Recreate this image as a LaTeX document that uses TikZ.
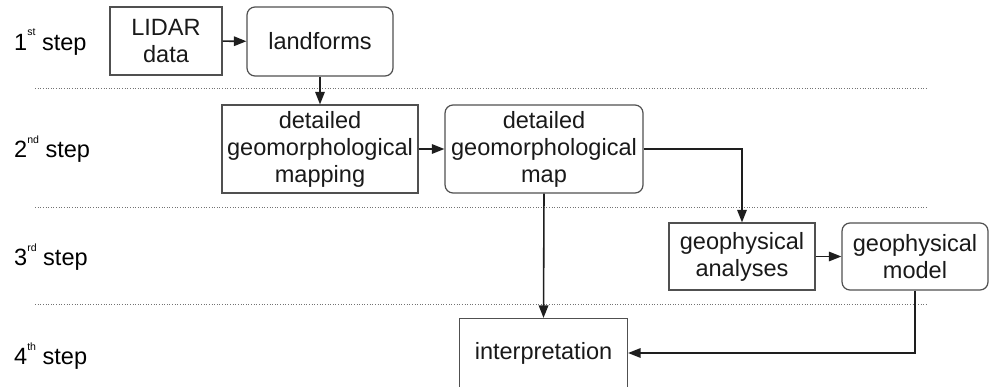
\documentclass[tikz,border=0pt]{standalone}
\usepackage{fontspec}
\setmainfont{Liberation Sans}
\usepackage{xcolor}
\usepackage{tikz}
\usetikzlibrary{arrows.meta}

\definecolor{boxline}{HTML}{505050}
\definecolor{arrowline}{HTML}{1E1E1E}
\newcommand{\stepsup}[1]{\raisebox{0.62em}{\fontsize{6pt}{6pt}\selectfont #1}}

\begin{document}
\begin{tikzpicture}[x=0.02cm, y=-0.02cm, font=\fontsize{13.4pt}{15.4pt}\selectfont,
        stepbox/.style={draw=boxline, line width=0.7pt, align=center, inner sep=0pt, text=black!90},
        roundbox/.style={stepbox, rounded corners=0.16cm},
        flow/.style={draw=arrowline, line width=0.9pt, -{Triangle[length=0.25cm, width=0.19cm]}}]
        \useasboundingbox (0,0) rectangle (990,386);

        % step separators
        \foreach \yy in {88, 207, 304} \draw [densely dotted, line width=0.5pt, black!55] (35,\yy) -- (928,\yy);

        \node (s1) [anchor=west] at (8,42) {1\stepsup{st} step}; \node (s2) [anchor=west] at (8,149) {2\stepsup{nd} step};
        \node (s3) [anchor=west] at (8,257) {3\stepsup{rd} step}; \node (s4) [anchor=west] at (8,356) {4\stepsup{th} step};

        \node (lidar) [stepbox, minimum width=2.24cm, minimum height=1.36cm] at (166,41) {LIDAR\\data};
        \node (landforms) [roundbox, minimum width=2.92cm, minimum height=1.38cm] at (320,41.5) {landforms};
        \node (mapping) [stepbox, minimum width=3.92cm, minimum height=1.76cm] at (320,149) {detailed\\geomorphological\\mapping};
        \node (map) [roundbox, minimum width=3.96cm, minimum height=1.76cm] at (544,149) {detailed\\geomorphological\\map};
        \node (analyses) [stepbox, minimum width=2.92cm, minimum height=1.34cm] at (742,256.5) {geophysical\\analyses};
        \node (model) [roundbox, minimum width=2.92cm, minimum height=1.34cm] at (915,256.5) {geophysical\\model};
        \node (interp) [stepbox, minimum width=3.36cm, minimum height=1.38cm] at (543.5,353) {interpretation};

        \draw [flow] (lidar) -- (landforms); \draw [flow] (landforms) -- (mapping);
        \draw [flow] (mapping) -- (map); \draw [flow] (map.east) -| (analyses.north);
        \draw [flow] (analyses) -- (model); \draw [flow] (map.south) -- (interp.north);
        \draw [flow] (model.south) |- (interp.east);
    \end{tikzpicture}
\end{document}
